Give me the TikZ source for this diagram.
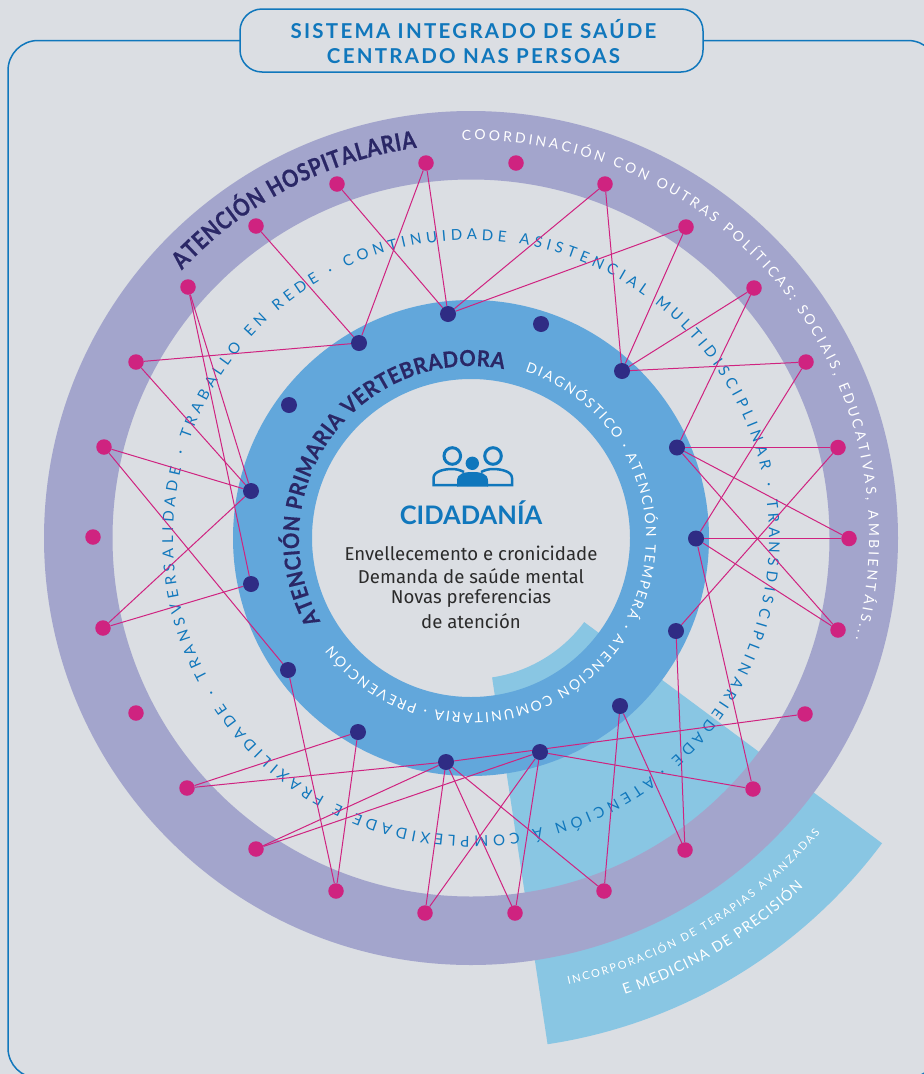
\documentclass[tikz,border=0pt]{standalone}
\usepackage{fontspec}
\setmainfont{Lato}
\newfontfamily\narrowA[FakeStretch=0.84,BoldFeatures={FakeBold=0.6}]{Lato}
\newfontfamily\narrowB[FakeStretch=0.92,BoldFeatures={FakeBold=0.4}]{Lato}
\newfontfamily\bodyfont{Fira Sans}
\usetikzlibrary{decorations.text,calc}
\pgfdeclarelayer{under}\pgfdeclarelayer{mid}\pgfsetlayers{under,mid,main}
\definecolor{bgc}{HTML}{DBDEE3}
\definecolor{ringp}{HTML}{A3A5CC}
\definecolor{ringb}{HTML}{62A7DB}
\definecolor{wedgec}{HTML}{89C6E3}
\definecolor{magc}{HTML}{CF2380}
\definecolor{navyc}{HTML}{2F2C84}
\definecolor{navyt}{HTML}{2A2766}
\definecolor{titleb}{HTML}{1077BC}
\definecolor{darkt}{HTML}{2B2B2B}
\tikzset{
  mdot/.style={circle,fill=magc,inner sep=0pt,minimum size=15.5pt},
  ndot/.style={circle,fill=navyc,inner sep=0pt,minimum size=16pt},
  link/.style={draw=magc,line width=1pt},
  arctext/.style={decorate,decoration={text along path,text align={fit to path},text={#1}}},
  bodytxt/.style={text=darkt,font=\bodyfont\fontsize{18.6}{18.6}\selectfont,inner sep=0pt,anchor=center},
}
\begin{document}
\begin{tikzpicture}[x=1pt,y=-1pt]
\useasboundingbox (0,0) rectangle (924,1074);
\coordinate (c) at (471,538);
\begin{pgfonlayer}{under}
\fill[bgc] (0,0) rectangle (924,1074);
% frame
\draw[titleb,line width=1.5pt,rounded corners=30pt] (8,40.5) rectangle (938,1078);
% wedge
\fill[wedgec] ($(c)+(81.4:141)$) arc[start angle=81.4,end angle=36.6,radius=141]
  -- ($(c)+(36.6:512)$) arc[start angle=36.6,end angle=81.4,radius=512] -- cycle;
% rings
\fill[ringp,even odd rule] (c) circle[radius=427] (c) circle[radius=358.5];
\fill[ringb,even odd rule] (c) circle[radius=238] (c) circle[radius=159];
% curved text
\path[arctext={|\fontsize{15}{15}\selectfont\color{titleb}|ATENCIÓN Á COMPLEXIDADE E FRAXILIDADE · TRANSVERSALIDADE · TRABALLO EN REDE · CONTINUIDADE ASISTENCIAL MULTIDISCIPLINAR · TRANSDISCIPLINARIEDADE ·}]
  ($(c)+(53:298)$) arc[start angle=53,end angle=411,radius=298];
\path[arctext={|\fontsize{14}{14}\selectfont\color{white}|COORDINACIÓN CON OUTRAS POLÍTICAS: SOCIAIS, EDUCATIVAS, AMBIENTÁIS...}]
  ($(c)+(-91.3:398)$) arc[start angle=-91.3,end angle=14.7,radius=398];
\path[arctext={|\fontsize{14}{14}\selectfont\color{white}|DIAGNÓSTICO · ATENCIÓN TEMPERÁ · ATENCIÓN COMUNITARIA · PREVENCIÓN}]
  ($(c)+(-72:175)$) arc[start angle=-72,end angle=142.4,radius=175];
\path[arctext={|\narrowB\fontsize{22}{22}\selectfont\bfseries\color{navyt}|ATENCIÓN PRIMARIA VERTEBRADORA}]
  ($(c)+(-209:172)$) arc[start angle=-209,end angle=-79,radius=172];
\path[arctext={|\narrowA\fontsize{24}{24}\selectfont\bfseries\color{navyt}|ATENCIÓN HOSPITALARIA}]
  ($(c)+(-137.2:394)$) arc[start angle=-137.2,end angle=-97.9,radius=394];
\path[arctext={|\fontsize{11}{11}\selectfont\color{white}|INCORPORACIÓN DE TERAPIAS AVANZADAS}]
  ($(c)+(77.7:457)$) arc[start angle=77.7,end angle=40.2,radius=457];
\path[arctext={|\fontsize{14.5}{15}\selectfont\color{white}|E MEDICINA DE PRECISIÓN}]
  ($(c)+(71.4:482)$) arc[start angle=71.4,end angle=46.4,radius=482];
% icon
\begin{scope}[titleb]
\draw[line width=3pt] (452.3,456) circle[radius=8.3] (493,456) circle[radius=8.3];
\fill (472.3,463.3) circle[radius=6.7];
\fill (457,486.5) -- (457,481) .. controls (457,473) and (465,472) .. (472.3,472) .. controls (480,472) and (488,473) .. (488,481) -- (488,486.5) -- cycle;
\draw[line width=2.5pt] (458,485) -- (433.5,485) -- (433.5,478) .. controls (433.5,471) and (445,469) .. (452,469) .. controls (456,469) and (460,470) .. (464,472);
\draw[line width=2.5pt] (487,485) -- (512,485) -- (512,478) .. controls (512,471) and (500,469) .. (493,469) .. controls (489,469) and (485,470) .. (481,472);
\end{scope}
\end{pgfonlayer}
% title
\node[draw=titleb,line width=1.5pt,fill=bgc,rounded corners=22pt,minimum width=463pt,minimum height=63pt,inner sep=0pt] (titlebox) at (471.5,40.5) {};
\node[inner sep=0pt,align=center,text=titleb,font=\fontsize{20.5}{25}\selectfont\bfseries\addfontfeature{LetterSpace=11}] (titletxt) at (473.5,41.5) {SISTEMA INTEGRADO DE SAÚDE\\CENTRADO NAS PERSOAS};
% centre
\node[inner sep=0pt,text=titleb,font=\fontsize{25.5}{27}\selectfont\bfseries] (cid) at (471,513) {CIDADANÍA};
\node[bodytxt] (l1) at (471,553.5) {Envellecemento e cronicidade};
\node[bodytxt] (l2) at (471,576) {Demanda de saúde mental};
\node[bodytxt] (l3) at (471,598.5) {Novas preferencias};
\node[bodytxt] (l4) at (471,621) {de atención};
% dots
\foreach \n/\x/\y in {m1/426/163,m2/516/163,m3/337/184,m4/605/184,m5/256/226,m6/686/227,m7/188/287,m8/754/288,m9/136/362,m10/806/362,m11/104/447,m12/838/447.5,m13/93/537,m14/849/538.5,m15/103/628,m16/838/630,m17/136/713,m18/805/714,m19/187/788,m20/753/789,m21/256/849,m22/685/850,m23/336/891,m24/604/891,m25/425/913,m26/515/913}
  \node[mdot] (\n) at (\x,\y) {};
\foreach \n/\x/\y in {n1/448/314,n2/541/324,n3/359/343,n4/622/371,n5/289/405,n6/677/447.5,n7/251/491,n8/696/538.5,n9/251/584,n10/676/631,n11/288/670,n12/620/706,n13/358/732,n14/540/752,n15/446/762}
  \node[ndot] (\n) at (\x,\y) {};
% links
\begin{pgfonlayer}{mid}
\foreach \a/\b in {m3/n1,m1/n1,m1/n3,m4/n1,m6/n1,m4/n4,m6/n4,m8/n4,m10/n4,m5/n3,m9/n3,m9/n7,m7/n7,m7/n9,m11/n7,m15/n7,m15/n9,m11/n11,n11/m23,n13/m23,n13/m19,n15/m19,n15/m21,n14/m21,n15/m18,n14/m20,n15/m25,n15/m26,n15/m24,n14/m25,n14/m26,n12/m24,n12/m22,n10/m22,n10/m12,n8/m20,n8/m10,n8/m14,n8/m16,n6/m14,n6/m16,n6/m12,n6/m8}
  \draw[link] (\a) -- (\b);
\end{pgfonlayer}
\end{tikzpicture}
\end{document}
